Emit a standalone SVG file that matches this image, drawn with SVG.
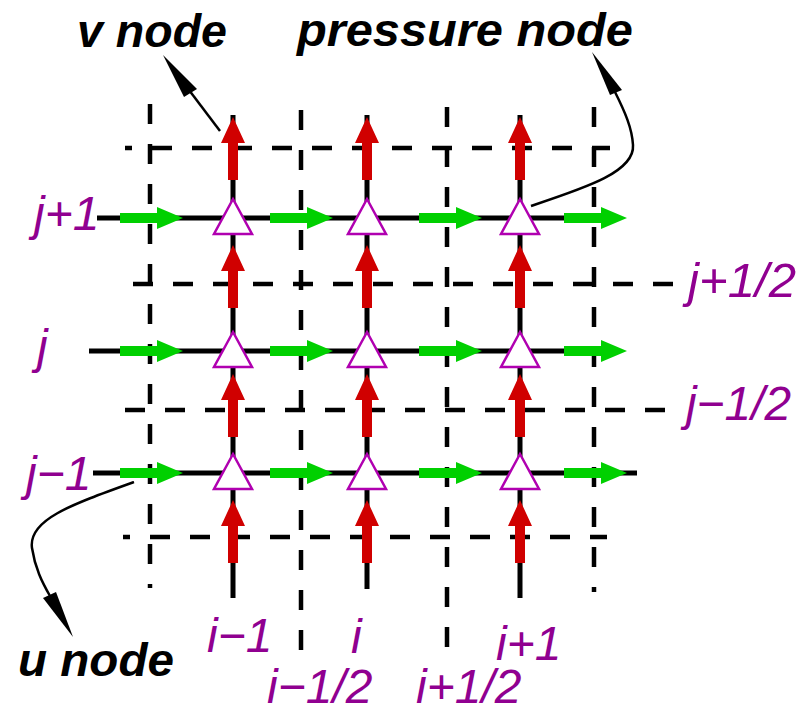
<svg xmlns="http://www.w3.org/2000/svg" xmlns:xlink="http://www.w3.org/1999/xlink" width="800" height="715" viewBox="0 0 800 715">
<style>
.dash{stroke:#000;stroke-width:4.5;stroke-dasharray:20 20;fill:none}
.solid{stroke:#000;stroke-width:5;fill:none}
.v{fill:#d00000}
.u{fill:#00d000}
.p{fill:#fff;stroke:#b000b0;stroke-width:2.5}
.lbl{font-family:"Liberation Sans",Arial,sans-serif;font-style:italic;font-size:48px;fill:#900090}
.big{font-family:"Liberation Sans",Arial,sans-serif;font-style:italic;font-weight:bold;font-size:47px;fill:#000}
.conn{stroke:#000;stroke-width:2.5;fill:none}
</style>
<defs>
<path id="varr" d="M0,0 L12,26 L5,26 L5,63 L-5,63 L-5,26 L-12,26 Z"/>
<path id="uarr" d="M0,0 L-26,-11 L-26,-5 L-63,-5 L-63,5 L-26,5 L-26,11 Z"/>
<path id="tri" d="M0,-19 L19,16 L-19,16 Z"/>
</defs>
<g id="grid-dashed">
<line class="dash" x1="125" y1="148" x2="610" y2="148" stroke-dashoffset="13"/>
<line class="dash" x1="133" y1="284" x2="673" y2="284"/>
<line class="dash" x1="125" y1="410" x2="665" y2="410"/>
<line class="dash" x1="123" y1="537" x2="607" y2="537" stroke-dashoffset="13"/>
<line class="dash" x1="150" y1="104" x2="150" y2="588"/>
<line class="dash" x1="301" y1="110" x2="301" y2="670"/>
<line class="dash" x1="447" y1="107" x2="447" y2="647"/>
<line class="dash" x1="594" y1="107" x2="594" y2="592"/>
</g>
<g id="grid-solid">
<line class="solid" x1="97" y1="218" x2="570" y2="218"/>
<line class="solid" x1="89" y1="351" x2="570" y2="351"/>
<line class="solid" x1="93" y1="473" x2="637" y2="473"/>
<line class="solid" x1="233" y1="115" x2="233" y2="598"/>
<line class="solid" x1="367" y1="115" x2="367" y2="589"/>
<line class="solid" x1="520" y1="115" x2="520" y2="598"/>
</g>
<g id="v-nodes" class="v">
<use xlink:href="#varr" x="233" y="117"/>
<use xlink:href="#varr" x="233" y="245"/>
<use xlink:href="#varr" x="233" y="374"/>
<use xlink:href="#varr" x="233" y="500"/>
<use xlink:href="#varr" x="367" y="117"/>
<use xlink:href="#varr" x="367" y="245"/>
<use xlink:href="#varr" x="367" y="374"/>
<use xlink:href="#varr" x="367" y="500"/>
<use xlink:href="#varr" x="520" y="117"/>
<use xlink:href="#varr" x="520" y="245"/>
<use xlink:href="#varr" x="520" y="374"/>
<use xlink:href="#varr" x="520" y="500"/>
</g>
<g id="u-nodes" class="u">
<use xlink:href="#uarr" x="183" y="218"/>
<use xlink:href="#uarr" x="333" y="218"/>
<use xlink:href="#uarr" x="482" y="218"/>
<use xlink:href="#uarr" x="627" y="218"/>
<use xlink:href="#uarr" x="183" y="351"/>
<use xlink:href="#uarr" x="333" y="351"/>
<use xlink:href="#uarr" x="482" y="351"/>
<use xlink:href="#uarr" x="627" y="351"/>
<use xlink:href="#uarr" x="183" y="473"/>
<use xlink:href="#uarr" x="333" y="473"/>
<use xlink:href="#uarr" x="482" y="473"/>
<use xlink:href="#uarr" x="627" y="473"/>
</g>
<g id="p-nodes" class="p">
<use xlink:href="#tri" x="233" y="218"/>
<use xlink:href="#tri" x="367" y="218"/>
<use xlink:href="#tri" x="520" y="218"/>
<use xlink:href="#tri" x="233" y="351"/>
<use xlink:href="#tri" x="367" y="351"/>
<use xlink:href="#tri" x="520" y="351"/>
<use xlink:href="#tri" x="233" y="473"/>
<use xlink:href="#tri" x="367" y="473"/>
<use xlink:href="#tri" x="520" y="473"/>
</g>
<g id="connectors">
<line class="conn" x1="220" y1="131" x2="189" y2="90"/>
<polygon points="163,55 197,89 184,97" fill="#000"/>
<path class="conn" d="M531,206 C585,188 635,172 633,145 C632,128 625,112 615,92"/>
<polygon points="592,52 622,90 610,95" fill="#000"/>
<path class="conn" d="M134,482 C70,505 28,520 32,548 C35,568 42,582 50,596"/>
<polygon points="73,637 43,598 56,592" fill="#000"/>
</g>
<g id="labels">
<text class="big" x="77" y="47" textLength="150" lengthAdjust="spacingAndGlyphs">v node</text>
<text class="big" x="297" y="46" textLength="336" lengthAdjust="spacingAndGlyphs">pressure node</text>
<text class="big" x="18" y="676" textLength="156" lengthAdjust="spacingAndGlyphs">u node</text>
<text class="lbl" x="34" y="230">j+1</text>
<text class="lbl" x="37" y="363">j</text>
<text class="lbl" x="26" y="490">j−1</text>
<text class="lbl" x="688" y="297" textLength="108" lengthAdjust="spacingAndGlyphs">j+1/2</text>
<text class="lbl" x="686" y="420" textLength="105" lengthAdjust="spacingAndGlyphs">j−1/2</text>
<text class="lbl" x="207" y="652">i−1</text>
<text class="lbl" x="351" y="653">i</text>
<text class="lbl" x="496" y="660">i+1</text>
<text class="lbl" x="267" y="703">i−1/2</text>
<text class="lbl" x="416" y="703">i+1/2</text>
</g>
</svg>
